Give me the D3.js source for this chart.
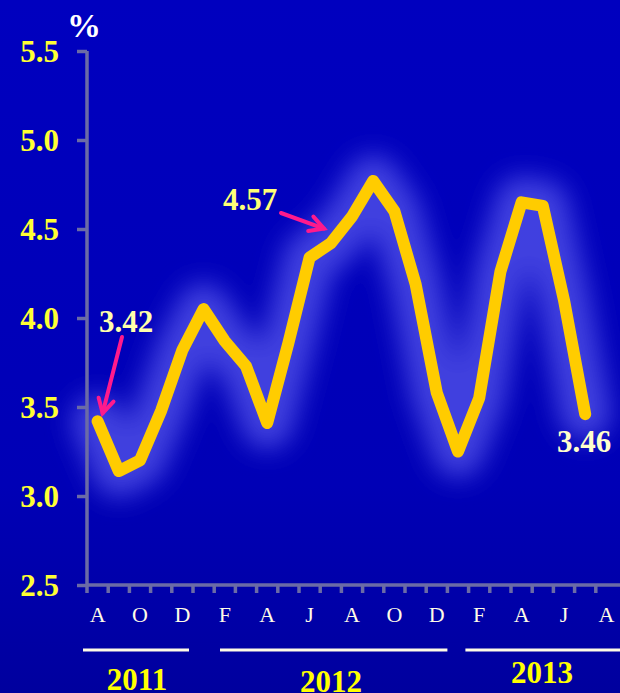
<!DOCTYPE html>
<html>
<head>
<meta charset="utf-8">
<script src="https://cdn.jsdelivr.net/npm/d3@7"></script>
<style>
  html, body { margin: 0; padding: 0; background: #0000b4; }
  svg { display: block; }
</style>
</head>
<body>
<svg id="chart" width="620" height="693"></svg>
<script>
// Monthly months Aug 2011 .. Aug 2013 (axis slots) and rate values Aug 2011 .. Jul 2013
const months = ["2011-08","2011-09","2011-10","2011-11","2011-12",
  "2012-01","2012-02","2012-03","2012-04","2012-05","2012-06","2012-07",
  "2012-08","2012-09","2012-10","2012-11","2012-12",
  "2013-01","2013-02","2013-03","2013-04","2013-05","2013-06","2013-07","2013-08"];
const monthLetters = ["A","S","O","N","D","J","F","M","A","M","J","J","A","S","O","N","D",
  "J","F","M","A","M","J","J","A"];
const values = [3.42, 3.14, 3.20, 3.48, 3.82, 4.05, 3.87, 3.73, 3.41, 3.86, 4.34, 4.42,
  4.57, 4.77, 4.60, 4.19, 3.58, 3.25, 3.55, 4.26, 4.65, 4.63, 4.10, 3.46];
const yTicks = [2.5, 3.0, 3.5, 4.0, 4.5, 5.0, 5.5];
const years = ["2011", "2012", "2013"];
const yearFirstMonth = ["2011-08", "2012-01", "2013-01"];
const yearLastMonth = ["2011-12", "2012-12", "2013-08"];
const callouts = [
  { month: "2011-08", text: "3.42" },
  { month: "2012-08", text: "4.57" },
  { month: "2013-07", text: "3.46" }
];

(function () {
const svg = d3.select("#chart");
const W = 620, H = 693;
const plotLeft = 87, plotRight = 617, plotTop = 51, plotBottom = 585;

const defs = svg.append("defs");
const bg = defs.append("linearGradient").attr("id", "bg").attr("x1", 0).attr("y1", 0).attr("x2", 0).attr("y2", 1);
bg.append("stop").attr("offset", "0%").attr("stop-color", "#0000bf");
bg.append("stop").attr("offset", "70%").attr("stop-color", "#0000b6");
bg.append("stop").attr("offset", "100%").attr("stop-color", "#00009e");
const glow = defs.append("filter").attr("id", "glow")
  .attr("x", "-30%").attr("y", "-30%").attr("width", "160%").attr("height", "160%");
glow.append("feGaussianBlur").attr("stdDeviation", 13);

svg.append("rect").attr("width", W).attr("height", H).attr("fill", "url(#bg)");

const x = d3.scaleBand().domain(months).range([plotLeft, plotRight]).padding(0);
const y = d3.scaleLinear().domain([2.5, 5.5]).range([plotBottom, plotTop]);
const cx = m => x(m) + x.bandwidth() / 2;

const serif = "'Liberation Serif', 'Times New Roman', serif";
const axisColor = "#6b6ba6";

// soft halo behind the series
const line = d3.line().x((d, i) => cx(months[i])).y(d => y(d));
svg.append("path").datum(values)
  .attr("d", line)
  .attr("fill", "none")
  .attr("stroke", "#5c5cf0")
  .attr("stroke-opacity", 0.7)
  .attr("stroke-width", 52)
  .attr("stroke-linejoin", "round")
  .attr("stroke-linecap", "round")
  .attr("filter", "url(#glow)");

// y axis
const yAxis = svg.append("g").attr("transform", `translate(${plotLeft},0)`)
  .call(d3.axisLeft(y).tickValues(yTicks).tickSize(10).tickFormat(d3.format(".1f")));
yAxis.select(".domain").attr("stroke", axisColor).attr("stroke-width", 3.5)
  .attr("d", `M0,${plotTop}V${plotBottom}`);
yAxis.selectAll(".tick line").attr("stroke", axisColor).attr("stroke-width", 3.5);
yAxis.selectAll(".tick text")
  .attr("x", -28).attr("dy", "0.33em")
  .attr("fill", "#ffff33")
  .attr("font-family", serif).attr("font-weight", "bold").attr("font-size", 31)
  .attr("text-anchor", "end");

// x axis: ticks at month boundaries, letter every second month
const xAxisG = svg.append("g").attr("transform", `translate(0,${plotBottom})`);
xAxisG.append("line").attr("x1", plotLeft - 1).attr("x2", W).attr("y1", 0).attr("y2", 0)
  .attr("stroke", axisColor).attr("stroke-width", 3.5);
xAxisG.selectAll("line.mt").data(months).join("line").attr("class", "mt")
  .attr("x1", d => x(d)).attr("x2", d => x(d)).attr("y1", 0).attr("y2", 8)
  .attr("stroke", axisColor).attr("stroke-width", 3.5);
xAxisG.selectAll("text").data(months.filter((d, i) => i % 2 === 0)).join("text")
  .attr("x", d => cx(d)).attr("y", 37)
  .attr("text-anchor", "middle")
  .attr("fill", "#fffbe6")
  .attr("font-family", serif).attr("font-size", 22)
  .text(d => monthLetters[months.indexOf(d)]);

// unit
svg.append("text").attr("x", 84).attr("y", 37).attr("text-anchor", "middle")
  .attr("fill", "#ffffff").attr("font-family", serif).attr("font-weight", "bold")
  .attr("font-size", 34).text("%");

// series
svg.append("path").datum(values)
  .attr("d", line)
  .attr("fill", "none")
  .attr("stroke", "#ffcc00")
  .attr("stroke-width", 12)
  .attr("stroke-linejoin", "round")
  .attr("stroke-linecap", "round");

// year brackets
const yearInset = [[-4, -4], [27, 0], [18, 10]];
years.forEach((yr, k) => {
  const x0 = x(yearFirstMonth[k]) + yearInset[k][0];
  const x1 = x(yearLastMonth[k]) + x.bandwidth() + yearInset[k][1];
  svg.append("line").attr("x1", x0).attr("x2", Math.min(x1, W)).attr("y1", 650).attr("y2", 650)
    .attr("stroke", "#fffbe6").attr("stroke-width", 3);
});
const yearTextX = [137, 331, 542];
const yearTextY = [690, 692, 683];
years.forEach((yr, k) => {
  svg.append("text").attr("x", yearTextX[k]).attr("y", yearTextY[k])
    .attr("text-anchor", "middle").attr("fill", "#ffff00")
    .attr("font-family", serif).attr("font-weight", "bold").attr("font-size", 31)
    .text(yr);
});

// value callouts
const pink = "#ff1a8c";
function arrow(x0, y0, x1, y1) {
  const a = Math.atan2(y1 - y0, x1 - x0);
  const L = 16, s = 0.5;
  svg.append("line").attr("x1", x0).attr("y1", y0).attr("x2", x1).attr("y2", y1)
    .attr("stroke", pink).attr("stroke-width", 4).attr("stroke-linecap", "round");
  const p = [[x1 - L * Math.cos(a - s), y1 - L * Math.sin(a - s)], [x1, y1],
             [x1 - L * Math.cos(a + s), y1 - L * Math.sin(a + s)]];
  svg.append("path").attr("d", d3.line()(p)).attr("fill", "none")
    .attr("stroke", pink).attr("stroke-width", 4).attr("stroke-linecap", "round")
    .attr("stroke-linejoin", "miter");
}
const v0 = values[months.indexOf(callouts[0].month)];
svg.append("text").attr("x", 126).attr("y", 332).attr("text-anchor", "middle")
  .attr("fill", "#ffffaa").attr("font-family", serif).attr("font-weight", "bold")
  .attr("font-size", 31).text(callouts[0].text);
arrow(122, 337, cx(callouts[0].month) + 5, y(v0) - 8);

const v1 = values[months.indexOf(callouts[1].month)];
svg.append("text").attr("x", 250).attr("y", 210).attr("text-anchor", "middle")
  .attr("fill", "#ffff77").attr("font-family", serif).attr("font-weight", "bold")
  .attr("font-size", 31).text(callouts[1].text);
arrow(281, 213, cx(callouts[1].month) - 28, y(v1) + 12);

const v2 = values[months.indexOf(callouts[2].month)];
svg.append("text").attr("x", 584).attr("y", 452).attr("text-anchor", "middle")
  .attr("fill", "#ffffcc").attr("font-family", serif).attr("font-weight", "bold")
  .attr("font-size", 31).text(callouts[2].text);
})();
</script>
</body>
</html>
